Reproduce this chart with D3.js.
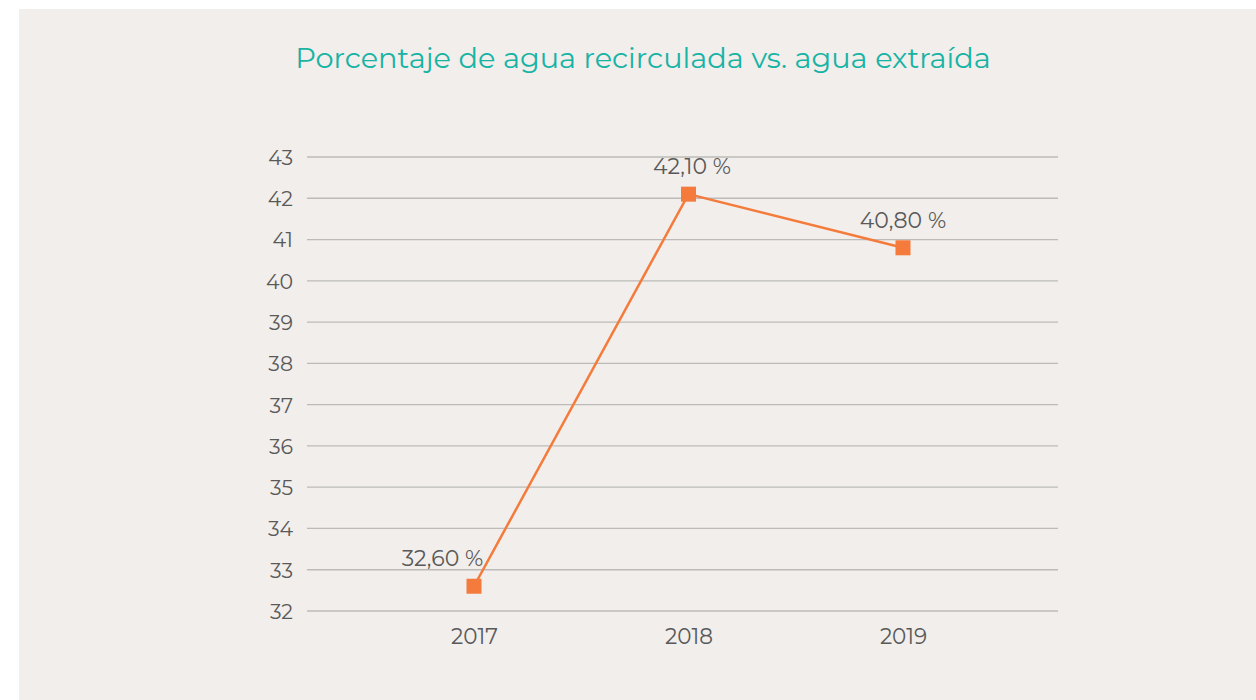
<!DOCTYPE html>
<html>
<head>
<meta charset="utf-8">
<script src="https://cdn.jsdelivr.net/npm/d3@7"></script>
<style>
  html, body { margin: 0; padding: 0; background: #ffffff; }
  svg { display: block; }
</style>
</head>
<body>
<svg id="chart" width="1256" height="700"></svg>
<script>
// Water recirculation share by year
const years = ["2017", "2018", "2019"];
const recirculatedPct = [32.6, 42.1, 40.8];
const yTicks = [32, 33, 34, 35, 36, 37, 38, 39, 40, 41, 42, 43];
const titleText = "Porcentaje de agua recirculada vs. agua extraída";

const svg = d3.select("#chart");
const font = "Montserrat, 'Noto Sans', 'Open Sans', sans-serif";

// panel background
svg.append("rect")
  .attr("x", 19).attr("y", 9)
  .attr("width", 1237).attr("height", 691)
  .attr("fill", "#f1eeeb");

const gridLeft = 307, gridRight = 1058;
const y = d3.scaleLinear().domain([32, 43]).range([611, 157]);
const x = d3.scalePoint().domain(years).range([474, 903]);

// horizontal gridlines
svg.append("g")
  .selectAll("line")
  .data(yTicks)
  .join("line")
  .attr("x1", gridLeft).attr("x2", gridRight)
  .attr("y1", d => y(d)).attr("y2", d => y(d))
  .attr("stroke", "#bdbbb9")
  .attr("stroke-width", 1.3);

// y axis labels
const yAxis = d3.axisLeft(y).tickValues(yTicks).tickSize(0).tickPadding(0);
const gy = svg.append("g").attr("transform", "translate(293,0)").call(yAxis);
gy.select(".domain").remove();
gy.selectAll("text")
  .attr("font-family", font)
  .attr("font-size", 20.5)
  .attr("fill", "#595959")
  .attr("dy", "0.36em");

// x axis labels
const xAxis = d3.axisBottom(x).tickSize(0).tickPadding(0);
const gx = svg.append("g").attr("transform", "translate(0,629)").call(xAxis);
gx.select(".domain").remove();
gx.selectAll("text")
  .attr("font-family", font)
  .attr("font-size", 21.5)
  .attr("fill", "#595959")
  .attr("dy", "0.71em");

// series line
const pts = years.map((yr, i) => ({ year: yr, value: recirculatedPct[i] }));
svg.append("path")
  .datum(pts)
  .attr("fill", "none")
  .attr("stroke", "#f47b3c")
  .attr("stroke-width", 2.5)
  .attr("d", d3.line().x(d => x(d.year)).y(d => y(d.value)));

// square markers
const m = 15;
svg.append("g")
  .selectAll("rect")
  .data(pts)
  .join("rect")
  .attr("x", d => x(d.year) - m / 2)
  .attr("y", d => y(d.value) - m / 2)
  .attr("width", m).attr("height", m)
  .attr("fill", "#f47b3c");

// value labels above each point; the first one sits left of the rising segment
const fmt = v => v.toFixed(2).replace(".", ",") + " %";
svg.append("g")
  .selectAll("text")
  .data(pts)
  .join("text")
  .attr("x", (d, i) => x(d.year) + (i === 0 ? -31.5 : i === 1 ? 3.5 : 0))
  .attr("y", d => y(d.value) - 20)
  .attr("text-anchor", "middle")
  .attr("font-family", font)
  .attr("font-size", 22)
  .attr("fill", "#595959")
  .text(d => fmt(d.value));

// title
svg.append("text")
  .attr("x", 643).attr("y", 68)
  .attr("text-anchor", "middle")
  .attr("font-family", font)
  .attr("font-size", 28.8)
  .attr("fill", "#17b3a5")
  .text(titleText);
</script>
</body>
</html>
